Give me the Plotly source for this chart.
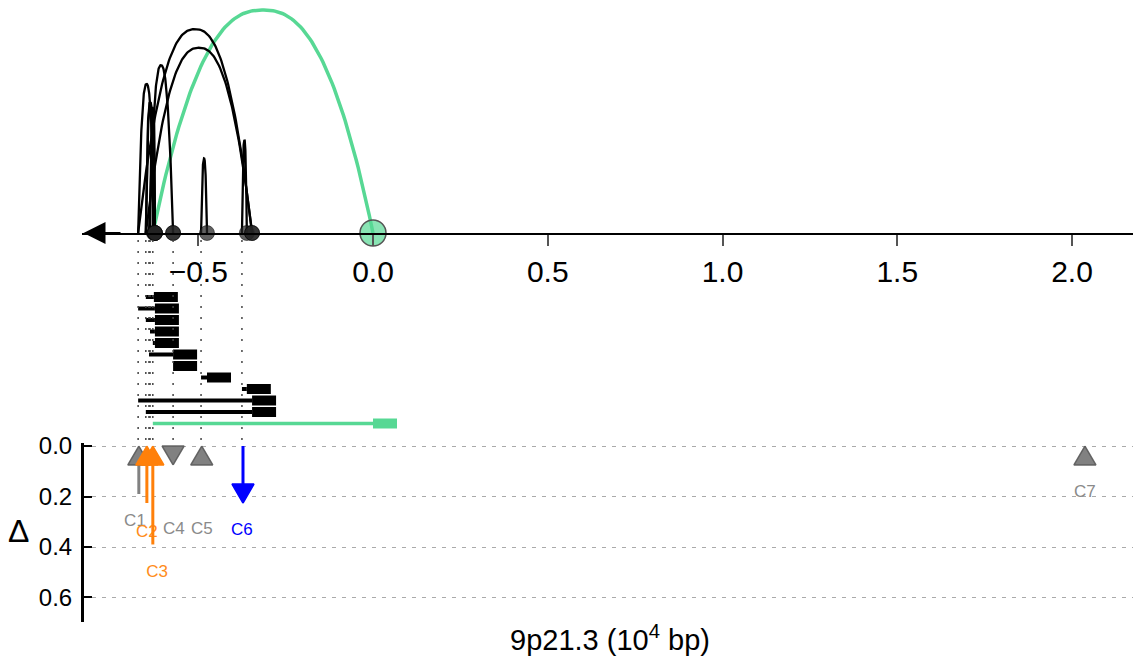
import numpy as np
import plotly.graph_objects as go

# ---------------- data ----------------
# interaction rows (x in units of 10^4 bp); each row draws an arc (top) and a read glyph (middle)
row_start = [-0.650, -0.672, -0.650, -0.638, -0.630, -0.641, -0.572, -0.492, -0.375, -0.672, -0.650, -0.630]
row_end = [-0.627, -0.624, -0.624, -0.624, -0.624, -0.572, -0.572, -0.475, -0.361, -0.346, -0.346, 0.000]
arc_height = [0.56, 0.64, 0.56, 0.54, 0.50, 0.72, 0.00, 0.32, 0.40, 0.875, 0.795, 0.957]
row_is_anchor = [False] * 11 + [True]

# candidate elements C1..C7 (bottom panel)
cand_names = ["C1", "C2", "C3", "C4", "C5", "C6", "C7"]
cand_pos = [-0.670, -0.647, -0.630, -0.572, -0.490, -0.372, 2.037]
cand_delta = [0.19, 0.226, 0.39, 0.0, 0.0, 0.226, 0.0]
cand_dir = ["up", "up", "up", "down", "up", "down", "up"]
cand_kind = ["gray", "orange", "orange", "gray", "gray", "blue", "gray"]
label_x = [-0.681, -0.647, -0.618, -0.570, -0.490, -0.375, 2.037]
label_y = [0.300, 0.345, 0.503, 0.333, 0.333, 0.337, 0.186]

x_ticks = [-0.5, 0.0, 0.5, 1.0, 1.5, 2.0]
delta_ticks = [0.0, 0.2, 0.4, 0.6]

# ---------------- style ----------------
GREEN = "#57d894"
FILL = {"gray": "rgba(115,115,115,0.9)", "orange": "#ff800a", "blue": "#0000ff"}
EDGE = {"gray": "rgba(90,90,90,0.9)", "orange": "#ff800a", "blue": "#0000ff"}
TXT = {"gray": "#8a8a8a", "orange": "#ff8c1a", "blue": "#0000ff"}
FONT = "Liberation Sans, Arial, sans-serif"

OFF = 8                      # page offset of the figure div
W, H = 1141, 658
ML, MR, MT = 82 - OFF, 0, 0
MB = H - (622 - OFF)
PW, PH = W - ML - MR, H - MT - MB
XSCALE = 349.5               # px per unit
X0 = 373.0 - OFF - ML        # plot-area px of x = 0
x_range = [-X0 / XSCALE, (PW - X0) / XSCALE]


def fy(page_py):
    return (PH - (page_py - OFF)) / PH


def fx(page_px):
    return (page_px - OFF - ML) / PW


# top panel: y=0 at page 233, 1 unit = 233 px
TOP_AX = 233.0
top_dom = [fy(TOP_AX), 1.0]
top_range = [0.0, (TOP_AX - OFF) / TOP_AX]
# middle panel: row i at page 297 + 11.5 i
mid_dom = [fy(440), fy(240)]
mid_range = [(440 - 297) / 11.5, (240 - 297) / 11.5]
# bottom panel: delta 0 at page 446, 252.5 px per unit
BSC = 252.5
bot_top = -0.01
bot_range = [(622 - 446) / BSC, bot_top]
bot_dom = [0.0, fy(446 + bot_top * BSC)]

fig = go.Figure()

# ---- arcs (top panel) ----
t = np.linspace(0, 1, 120)
order = [11] + list(range(11))
for i in order:
    s, e, h = row_start[i], row_end[i], arc_height[i]
    if h <= 0 or e <= s:
        continue
    xs = s + (e - s) * t
    ys = h * (1 - np.abs(2 * t - 1) ** 2.4)
    fig.add_trace(go.Scatter(x=xs, y=ys, mode="lines", xaxis="x", yaxis="y",
                             line=dict(color=GREEN if row_is_anchor[i] else "black",
                                       width=3.5 if row_is_anchor[i] else 2.3),
                             cliponaxis=False, hoverinfo="skip", showlegend=False))

# anchor circles on the axis
dark_x = [row_end[i] for i in range(len(row_end)) if not row_is_anchor[i]]
fig.add_trace(go.Scatter(x=dark_x, y=[0] * len(dark_x), mode="markers", xaxis="x", yaxis="y",
                         marker=dict(size=15, color="rgba(35,35,35,0.72)",
                                     line=dict(color="rgba(0,0,0,0.5)", width=1)),
                         cliponaxis=False, hoverinfo="skip", showlegend=False))
green_x = [row_end[i] for i in range(len(row_end)) if row_is_anchor[i]]
fig.add_trace(go.Scatter(x=green_x, y=[0] * len(green_x), mode="markers", xaxis="x", yaxis="y",
                         marker=dict(size=26, color="rgba(87,216,148,0.7)",
                                     line=dict(color="#555555", width=1.5)),
                         cliponaxis=False, hoverinfo="skip", showlegend=False))

# ---- read glyphs (middle panel) ----
BOX = 24 / XSCALE
for i in range(len(row_start)):
    s, e = row_start[i], row_end[i]
    col = GREEN if row_is_anchor[i] else "black"
    if e > s:
        fig.add_trace(go.Scatter(x=[s, e], y=[i, i], mode="lines", xaxis="x", yaxis="y2",
                                 line=dict(color=col, width=3.5 if row_is_anchor[i] else 4),
                                 hoverinfo="skip", showlegend=False))
    fig.add_trace(go.Scatter(x=[e, e + BOX], y=[i, i], mode="lines", xaxis="x", yaxis="y2",
                             line=dict(color=col, width=10),
                             hoverinfo="skip", showlegend=False))

# dotted guide lines at the row starts
for xv in sorted(set(row_start)):
    fig.add_trace(go.Scatter(x=[xv, xv], y=[mid_range[0], mid_range[1]], mode="lines",
                             xaxis="x", yaxis="y2",
                             line=dict(color="#444444", width=1.5, dash="2px,9px"),
                             hoverinfo="skip", showlegend=False))

# ---- candidates (bottom panel) ----
tw, th = 11 / XSCALE, 19 / BSC
for k in range(len(cand_names)):
    xv, v, d, kind = cand_pos[k], cand_delta[k], cand_dir[k], cand_kind[k]
    if d == "up":
        apex, base = 0.0, th
        if v > base:
            fig.add_trace(go.Scatter(x=[xv, xv], y=[base, v], mode="lines", xaxis="x", yaxis="y3",
                                     line=dict(color=FILL[kind], width=3),
                                     hoverinfo="skip", showlegend=False))
    else:
        apex = max(v, th)
        base = apex - th
        if base > 0:
            fig.add_trace(go.Scatter(x=[xv, xv], y=[0, base], mode="lines", xaxis="x", yaxis="y3",
                                     line=dict(color=FILL[kind], width=3),
                                     hoverinfo="skip", showlegend=False))
    fig.add_trace(go.Scatter(x=[xv, xv - tw, xv + tw, xv], y=[apex, base, base, apex],
                             fill="toself", fillcolor=FILL[kind], mode="lines",
                             line=dict(color=EDGE[kind], width=1.5), xaxis="x", yaxis="y3",
                             hoverinfo="skip", showlegend=False))
    fig.add_trace(go.Scatter(x=[label_x[k]], y=[label_y[k]], mode="text", text=[cand_names[k]],
                             textfont=dict(color=TXT[kind], size=17, family=FONT),
                             xaxis="x", yaxis="y3", cliponaxis=False,
                             hoverinfo="skip", showlegend=False))

annotations = [
    # arrow head at the left end of the genomic axis
    dict(x=x_range[0] + 1.5 / XSCALE, y=0, xref="x", yref="y",
         ax=x_range[0] + 40 / XSCALE, ay=0, axref="x", ayref="y",
         text="", showarrow=True, arrowhead=2, arrowsize=2.2, arrowwidth=2,
         arrowcolor="black", standoff=0),
    dict(text="9p21.3 (10<sup>4</sup> bp)", x=fx(610), y=fy(638), xref="paper", yref="paper",
         xanchor="center", yanchor="middle", showarrow=False,
         font=dict(size=29, color="black", family=FONT)),
    dict(text="Δ", x=fx(18), y=fy(531), xref="paper", yref="paper",
         xanchor="center", yanchor="middle", showarrow=False,
         font=dict(size=32, color="black", family=FONT)),
]

fig.update_layout(
    width=W, height=H, margin=dict(l=ML, r=MR, t=MT, b=MB, pad=0, autoexpand=False),
    paper_bgcolor="white", plot_bgcolor="rgba(0,0,0,0)",
    font=dict(family=FONT, color="black"),
    showlegend=False, annotations=annotations,
    xaxis=dict(range=x_range, domain=[0, 1], anchor="y", automargin=False,
               tickvals=x_ticks, tickformat=".1f", ticks="outside", ticklen=11, tickwidth=1.5,
               tickcolor="#555555", tickfont=dict(size=30, family=FONT, color="black"),
               showline=True, linecolor="black", linewidth=2,
               showgrid=False, zeroline=False),
    yaxis=dict(domain=top_dom, range=top_range, visible=False, anchor="x"),
    yaxis2=dict(domain=mid_dom, range=mid_range, visible=False, anchor="x"),
    yaxis3=dict(domain=bot_dom, range=bot_range, anchor="free", position=0, automargin=False,
                tickvals=delta_ticks, tickformat=".1f", ticks="inside", ticklen=8, tickwidth=1.5,
                tickcolor="black", tickfont=dict(size=24, family=FONT, color="black"),
                ticklabelstandoff=4,
                showline=True, linecolor="black", linewidth=3,
                showgrid=True, gridcolor="#aaaaaa", gridwidth=1, griddash="4px,6px",
                zeroline=False),
)

fig.write_html("out.html")
